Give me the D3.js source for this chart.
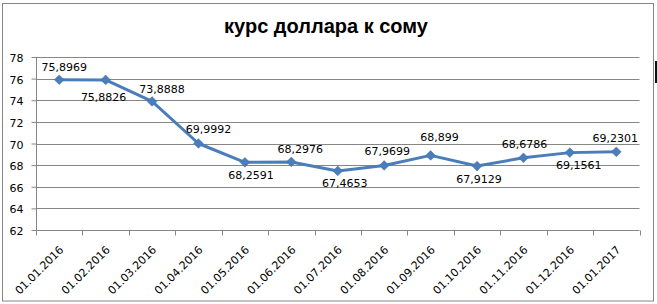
<!DOCTYPE html>
<html>
<head>
<meta charset="utf-8">
<script src="https://cdn.jsdelivr.net/npm/d3@7"></script>
<style>
  body { margin: 0; background: #fff; }
  svg { display: block; }
</style>
</head>
<body>
<div id="chart"></div>
<script>
/*
 * Dollar to som exchange rate chart
 */

var dates = ["01.01.2016", "01.02.2016", "01.03.2016", "01.04.2016", "01.05.2016",
  "01.06.2016", "01.07.2016", "01.08.2016", "01.09.2016", "01.10.2016",
  "01.11.2016", "01.12.2016", "01.01.2017"];
var rates = [75.8969, 75.8826, 73.8888, 69.9992, 68.2591, 68.2976, 67.4653,
  67.9699, 68.899, 67.9129, 68.6786, 69.1561, 69.2301];
var rateLabels = ["75,8969", "75,8826", "73,8888", "69,9992", "68,2591", "68,2976",
  "67,4653", "67,9699", "68,899", "67,9129", "68,6786", "69,1561", "69,2301"];
var yTicks = [62, 64, 66, 68, 70, 72, 74, 76, 78];
var title = "курс доллара к сому";

// where each data label sits relative to its point (label centre, px)
var labelDx = [5, -2, 10, 10, 6, 9, 7, 3, 9, 2, 1, 9, -1];
var labelDy = [-13, 17, -12, -15, 13, -13, 12, -14, -18, 13, -14, 12, -14];

var width = 657, height = 304;
var blue = "#4a7ebb";
var grey = "#868686";

var svg = d3.select("#chart").append("svg")
  .attr("width", width).attr("height", height);

// chart frame
svg.append("rect")
  .attr("x", 2.5).attr("y", 3.5).attr("width", 651).attr("height", 297.5)
  .style("fill", "white").style("stroke", grey).style("stroke-width", 1);

// bit of the next sheet object, cut off at the right
svg.append("rect")
  .attr("x", 655).attr("y", 61).attr("width", 2).attr("height", 22)
  .style("fill", "#111");

svg.append("text")
  .attr("x", 326).attr("y", 33)
  .attr("text-anchor", "middle")
  .style("font-family", "'Liberation Sans', Arial, sans-serif")
  .style("font-weight", "bold")
  .style("font-size", "20px")
  .text(title);

var x = d3.scaleBand().domain(dates).range([36, 639.5]);
var y = d3.scaleLinear().domain([62, 78]).range([230, 57]);

var font = "'DejaVu Sans', Verdana, sans-serif";

// gridlines
svg.append("g").selectAll("line").data(yTicks.slice(1)).enter().append("line")
  .attr("x1", 36).attr("x2", 639.5)
  .attr("y1", function(d){ return Math.round(y(d)) + 0.5; })
  .attr("y2", function(d){ return Math.round(y(d)) + 0.5; })
  .style("stroke", grey).style("stroke-width", 1);

// y axis
var yAxis = svg.append("g")
  .attr("transform", "translate(36.5,0)")
  .call(d3.axisLeft(y).tickValues(yTicks).tickSize(5).tickPadding(8));
yAxis.selectAll("line, path").style("stroke", grey);
yAxis.select("path").attr("d", "M0," + y(62) + "V" + y(78));
yAxis.selectAll("text")
  .style("font-family", font).style("font-size", "11px").style("fill", "#000")
  .attr("transform", function(d){ return "translate(0," + (Math.round(y(d)) + 0.5 - y(d)) + ")"; });

// x axis, ticks between categories
var xg = svg.append("g").attr("transform", "translate(0,230.5)");
xg.append("line").attr("x1", 36).attr("x2", 639.5).style("stroke", grey);
xg.selectAll(".tk").data(d3.range(dates.length + 1)).enter().append("line")
  .attr("class", "tk")
  .attr("x1", function(i){ return Math.round(x.range()[0] + i * x.step()) + 0.5; })
  .attr("x2", function(i){ return Math.round(x.range()[0] + i * x.step()) + 0.5; })
  .attr("y1", 0).attr("y2", 5)
  .style("stroke", grey);
xg.selectAll("text").data(dates).enter().append("text")
  .attr("text-anchor", "end")
  .attr("transform", function(d){
    return "translate(" + (x(d) + x.bandwidth() / 2 + 5) + ",20) rotate(-45)";
  })
  .style("font-family", font).style("font-size", "11px").style("fill", "#000")
  .text(function(d){ return d; });

// series line
var pts = dates.map(function(d, i){ return [x(d) + x.bandwidth() / 2, y(rates[i])]; });
svg.append("path")
  .datum(pts)
  .attr("d", d3.line())
  .style("fill", "none").style("stroke", blue).style("stroke-width", 3)
  .style("stroke-linejoin", "round");

// diamond markers
svg.append("g").selectAll("path").data(pts).enter().append("path")
  .attr("d", d3.symbol().type(d3.symbolDiamond2).size(60))
  .attr("transform", function(p){ return "translate(" + p[0] + "," + p[1] + ")"; })
  .style("fill", blue).style("stroke", "#3f6fa8").style("stroke-width", 0.5);

// data labels
svg.append("g").selectAll("text").data(pts).enter().append("text")
  .attr("x", function(p, i){ return p[0] + labelDx[i]; })
  .attr("y", function(p, i){ return p[1] + labelDy[i] + 4; })
  .attr("text-anchor", "middle")
  .style("font-family", font).style("font-size", "11px").style("fill", "#000")
  .text(function(p, i){ return rateLabels[i]; });
</script>
</body>
</html>
